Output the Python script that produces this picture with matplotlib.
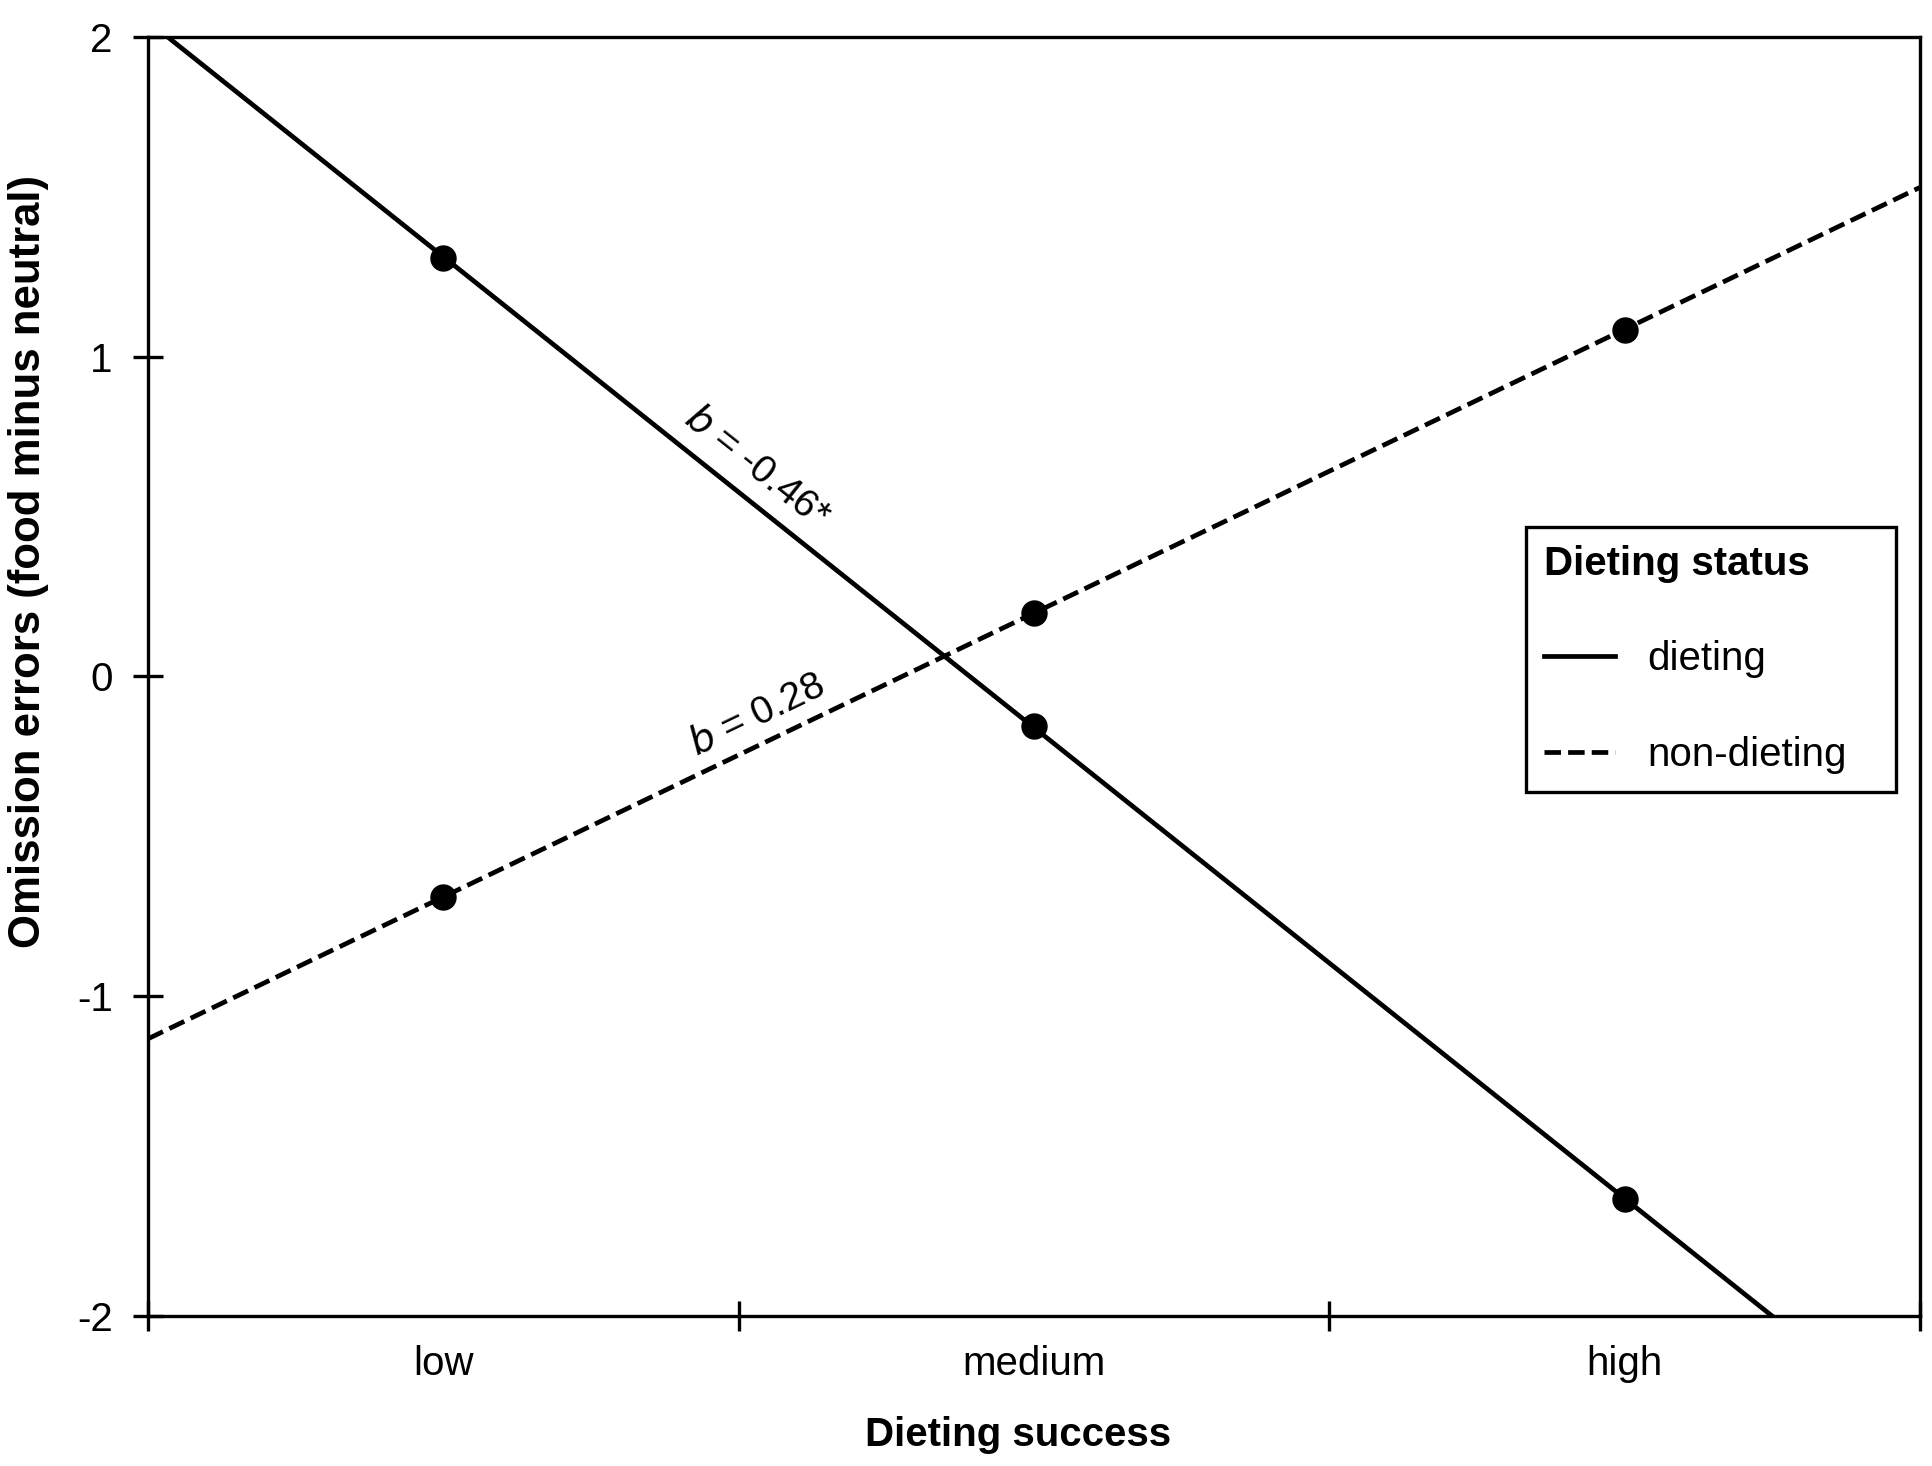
import numpy as np
import matplotlib
matplotlib.use('Agg')
import matplotlib.pyplot as plt
from matplotlib.ticker import FixedLocator

plt.rcParams['font.family'] = ['Liberation Sans', 'DejaVu Sans']

categories = ['low', 'medium', 'high']
dieting = [1.31, -0.155, -1.635]
non_dieting = [-0.69, 0.20, 1.085]
y_ticks = [-2, -1, 0, 1, 2]

xpos = np.arange(len(categories)) + 0.5

fig = plt.figure(figsize=(19.33, 14.66), dpi=100)
ax = fig.add_axes([0.0766, 0.1023, 0.9167, 0.8725])

# regression lines through the points, drawn across the whole axis
xx = np.array([0, len(categories)])
for vals, ls, lab in [(dieting, '-', 'dieting'),
                      (non_dieting, (0, (3.5, 1.5)), 'non-dieting')]:
    b, a = np.polyfit(xpos, vals, 1)
    ax.plot(xx, a + b*xx, c='black', lw=3.4, ls=ls, label=lab)
    ax.plot(xpos, vals, 'o', c='black', ms=18, zorder=3)

ax.set_xlim(0, len(categories))
ax.set_ylim(-2, 2)

ax.xaxis.set_major_locator(FixedLocator([0, 1, 2, 3]))
ax.xaxis.set_minor_locator(FixedLocator(xpos))
ax.set_xticklabels([])
ax.set_xticklabels(categories, minor=True)
ax.set_yticks(y_ticks)
ax.set_yticklabels([str(t) for t in y_ticks])

ax.tick_params(axis='x', which='major', direction='inout', length=22, width=2.4)
ax.tick_params(axis='x', which='minor', length=0, labelsize=29, pad=21)
ax.tick_params(axis='y', which='major', direction='inout', length=21, width=2.4,
               labelsize=29, pad=15)

for s in ax.spines.values():
    s.set_linewidth(2.4)

ax.set_xlabel('Dieting success', fontsize=29, fontweight='bold')
ax.set_ylabel('Omission errors (food minus neutral)', fontsize=31.5, fontweight='bold')
ax.xaxis.set_label_coords(0.491, -0.078)
ax.yaxis.set_label_coords(-0.056, 0.59)

ax.text(1.03, 0.655, r'$\it{b}$ = -0.46*', fontsize=28, rotation=-38.5,
        ha='center', va='center')
ax.text(1.03, -0.12, r'$\it{b}$ = 0.28', fontsize=28, rotation=25.7,
        ha='center', va='center')

leg = ax.legend(loc='upper left', bbox_to_anchor=(0.7777, 0.4168, 0.2088, 0.2),
                mode='expand', fontsize=29,
                title='Dieting status', title_fontproperties={'weight': 'bold', 'size': 29},
                alignment='left', frameon=True, fancybox=False, edgecolor='black',
                framealpha=1, handlelength=1.76, handletextpad=0.8, labelspacing=1.42,
                borderpad=0.45, borderaxespad=0)
leg.get_frame().set_linewidth(2.4)

plt.savefig('out.png', dpi=100)
